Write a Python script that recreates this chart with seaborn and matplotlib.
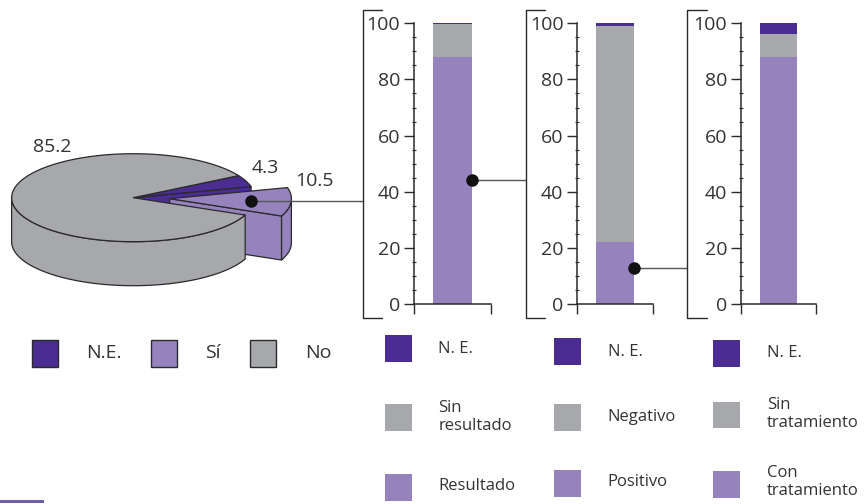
import numpy as np
import pandas as pd
import matplotlib
matplotlib.use("Agg")
import matplotlib.pyplot as plt
from matplotlib.patches import Polygon, Rectangle
from matplotlib.ticker import MultipleLocator
import seaborn as sns

# ---- data -------------------------------------------------------------
pie_labels = ["N.E.", "Sí", "No"]
pie_values = [4.3, 10.5, 85.2]

bar1_labels = ["N. E.", "Sin\nresultado", "Resultado"]
bar1_values = [0.3, 11.7, 88.0]

bar2_labels = ["N. E.", "Negativo", "Positivo"]
bar2_values = [0.8, 77.1, 22.1]

bar3_labels = ["N. E.", "Sin\ntratamiento", "Con\ntratamiento"]
bar3_values = [3.8, 8.2, 88.0]

y_ticks = [0, 20, 40, 60, 80, 100]

# ---- style ------------------------------------------------------------
sns.set_style("white")
plt.rcParams["font.family"] = ["Open Sans", "DejaVu Sans"]
TXT = "#333333"
DARK = "#4B2D91"
LIGHT = "#9683BE"
GRAY = "#A7A8AB"
EDGE = "#2a2a2a"
seg_colors = [DARK, GRAY, LIGHT]
pie_colors = [DARK, LIGHT, GRAY]

W, H = 867, 504
fig = plt.figure(figsize=(W / 100, H / 100), dpi=100)

# full-figure overlay in pixel units (y downwards) for pie, brackets, legends
ov = fig.add_axes([0, 0, 1, 1], zorder=0)
ov.set_xlim(0, W)
ov.set_ylim(H, 0)
ov.axis("off")

# ---- 3D-style pie -----------------------------------------------------
cx, cy, rx, ry, depth = 133.3, 197.7, 121.7, 44.0, 44.0
explode = 0.30
start = -23.2
total = sum(pie_values)
order = [1, 0, 2]  # counter-clockwise: Sí, N.E., No
spans = {}
a = start
for i in order:
    s = pie_values[i] / total * 360.0
    spans[i] = (a, a + s)
    a += s


def pt(theta, ox, oy, z=0.0, r=1.0):
    t = np.radians(theta)
    return (ox + r * rx * np.cos(t), oy - r * ry * np.sin(t) + z)


def arc(t0, t1, ox, oy, z=0.0, n=80):
    ts = np.linspace(t0, t1, n)
    return [pt(t, ox, oy, z) for t in ts]


def top(i, ox, oy):
    t0, t1 = spans[i]
    return Polygon([(ox, oy)] + arc(t0, t1, ox, oy), closed=True,
                   fc=pie_colors[i], ec=EDGE, lw=0.9, joinstyle="round")


def wall(i, t0, t1, ox, oy):
    pts = arc(t0, t1, ox, oy) + arc(t0, t1, ox, oy, depth)[::-1]
    return Polygon(pts, closed=True, fc=pie_colors[i], ec=EDGE, lw=0.9,
                   joinstyle="round")


def face(i, theta, ox, oy):
    e = pt(theta, ox, oy)
    pts = [(ox, oy), e, (e[0], e[1] + depth), (ox, oy + depth)]
    return Polygon(pts, closed=True, fc=pie_colors[i], ec=EDGE, lw=0.9,
                   joinstyle="round")


# exploded offset for "Sí"
s0, s1 = spans[1]
mid = (s0 + s1) / 2
sx = cx + explode * rx * np.cos(np.radians(mid))
sy = cy - explode * ry * np.sin(np.radians(mid))

ne0, ne1 = spans[0]
no0, no1 = spans[2]

ov.add_patch(face(0, ne0, cx, cy))
ov.add_patch(top(0, cx, cy))
ov.add_patch(face(1, s0, sx, sy))
ov.add_patch(wall(2, 180.0, no1, cx, cy))
ov.add_patch(top(2, cx, cy))
ov.add_patch(wall(1, s0, 0.0, sx, sy))
ov.add_patch(top(1, sx, sy))

# value labels
ov.text(52, 147, f"{pie_values[2]:.1f}", fontsize=14, color=TXT, ha="center", va="center")
ov.text(265, 168, f"{pie_values[0]:.1f}", fontsize=14, color=TXT, ha="center", va="center")
ov.text(314, 181, f"{pie_values[1]:.1f}", fontsize=14, color=TXT, ha="center", va="center")

# marker on "Sí" and connector to the first panel
dot = pt(mid, sx, sy, r=0.67)
ov.plot([dot[0], 363], [dot[1], dot[1]], color="#555555", lw=1.0, zorder=3)
ov.plot([dot[0]], [dot[1]], "o", color="#111111", ms=8, zorder=4)

# ---- stacked bar panels -------------------------------------------------
panels = [
    (414.0, 491.0, bar1_values),
    (577.3, 653.0, bar2_values),
    (741.0, 816.0, bar3_values),
]
ytop, ybot = 23.3, 304.0
axes = []
for left, right, vals in panels:
    ax = fig.add_axes([left / W, (H - ybot) / H, (right - left) / W, (ybot - ytop) / H],
                      zorder=2)
    ax.patch.set_alpha(0)
    ne, mid_v, low = vals
    cum = [ne + mid_v + low, mid_v + low, low]
    for c, col in zip(cum, seg_colors):
        sns.barplot(x=[0], y=[c], color=col, width=0.5, ax=ax,
                    native_scale=True, linewidth=0, saturation=1)
    ax.set_xlim(-0.5, 0.5)
    ax.set_ylim(0, 100)
    ax.set_yticks(y_ticks)
    ax.yaxis.set_minor_locator(MultipleLocator(5))
    ax.set_xticks([-0.5, 0.5])
    ax.set_xticklabels([])
    ax.set_xlabel("")
    ax.set_ylabel("")
    for sp in ["top", "right"]:
        ax.spines[sp].set_visible(False)
    for sp in ["left", "bottom"]:
        ax.spines[sp].set_color(EDGE)
        ax.spines[sp].set_linewidth(1.1)
    ax.tick_params(axis="y", which="major", direction="out", length=7, width=1,
                   color=EDGE, labelsize=14, labelcolor=TXT, pad=3, left=True)
    ax.tick_params(axis="y", which="minor", direction="inout", length=3.5, width=0.8,
                   color=EDGE, left=True)
    ax.tick_params(axis="x", which="major", direction="out", length=7, width=1,
                   color=EDGE, bottom=True)
    axes.append(ax)


def to_px(ax, x, y):
    fx, fy = ax.transData.transform((x, y))
    return fx, H - fy


# markers inside bars with connectors to next bracket
for ax, yv, bx in [(axes[0], 44.2, 526.0), (axes[1], 12.7, 687.3)]:
    px, py = to_px(ax, 0.25, yv)
    ov.plot([px, bx], [py, py], color="#555555", lw=1.0, zorder=3)
    ax.plot([0.25], [yv], "o", color="#111111", ms=8, clip_on=False, zorder=5)

# brackets in front of each panel
for bx, cap in [(363.0, 382.0), (526.0, 545.0), (687.3, 706.5)]:
    ov.plot([cap, bx, bx, cap], [10, 10, 318, 318], color=EDGE, lw=1.0, zorder=3)

# ---- legends ------------------------------------------------------------
for (x0, tx), lab, col in zip([(32, 86), (151, 205), (250, 305)], pie_labels, pie_colors):
    ov.add_patch(Rectangle((x0, 340), 26, 27, fc=col, ec=EDGE, lw=1.0))
    ov.text(tx, 353.5, lab, fontsize=14, color=TXT, ha="left", va="center")

cols = [
    (385.0, 438.3, [335.0, 404.0, 474.0], [349.0, 417.0, 486.0], bar1_labels),
    (554.0, 607.7, [338.0, 404.0, 470.0], [351.7, 416.7, 482.0], bar2_labels),
    (713.3, 766.7, [340.0, 401.7, 471.0], [353.0, 414.0, 482.0], bar3_labels),
]
for sq_x, tx, sq_ys, t_ys, labels in cols:
    for sq_y, ty, lab, col in zip(sq_ys, t_ys, labels, seg_colors):
        ov.add_patch(Rectangle((sq_x, sq_y), 26.7, 26.7, fc=col, ec="none"))
        ov.text(tx, ty, lab, fontsize=12, color=TXT, ha="left", va="center",
                linespacing=1.15)

# thin rule at lower-left edge
ov.add_patch(Rectangle((0, 500.3), 44, 2.4, fc="#6E5BAE", ec="none"))

fig.savefig("out.png", dpi=100)
